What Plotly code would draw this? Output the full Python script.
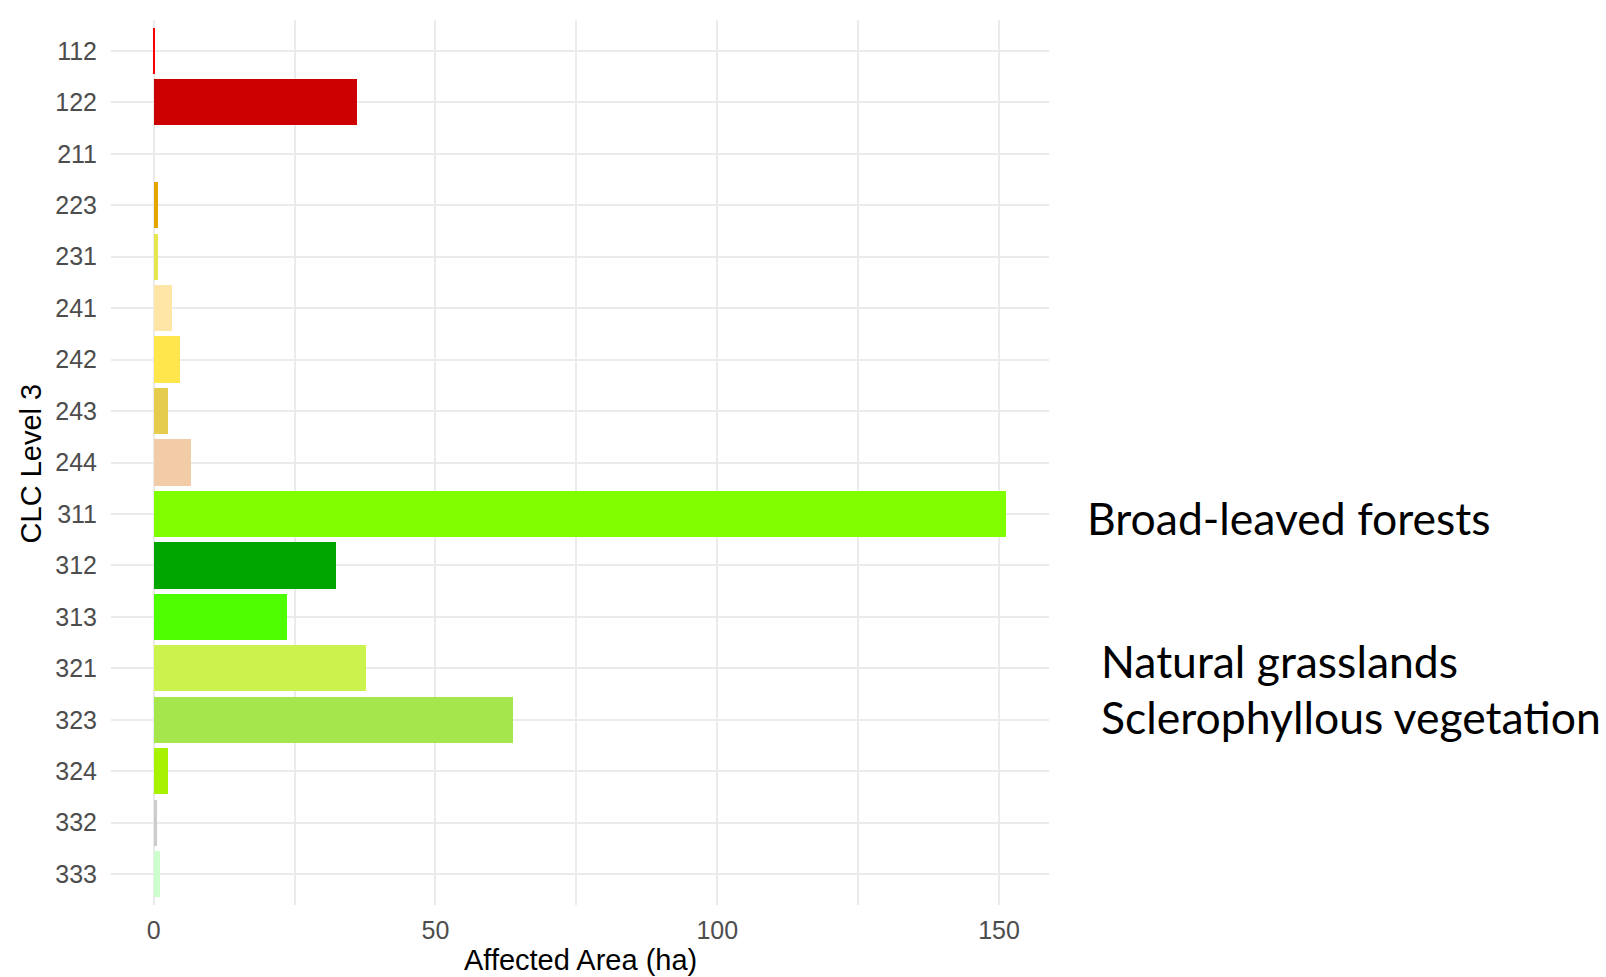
import plotly.graph_objects as go

categories = ["112", "122", "211", "223", "231", "241", "242", "243", "244",
              "311", "312", "313", "321", "323", "324", "332", "333"]
values = [0.2, 36.0, 0.0, 0.7, 0.7, 3.2, 4.6, 2.5, 6.6,
          151.3, 32.3, 23.7, 37.6, 63.8, 2.5, 0.6, 1.2]
colors = ["#FF0000", "#CC0000", "#FFFFA8", "#E6A600", "#E6E64D", "#FFE6A6",
          "#FFE64D", "#E6CC4D", "#F2CCA6", "#80FF00", "#00A600", "#4DFF00",
          "#CCF24D", "#A6E64D", "#A6F200", "#CCCCCC", "#CCFFCC"]
x_ticks = [0, 50, 100, 150]
x_title = "Affected Area (ha)"
y_title = "CLC Level 3"
side_labels = ["Broad-leaved forests", "Natural grasslands", "Sclerophyllous vegetation"]

W, H = 1606, 977
L, R, T, B = 110.6, 1049.0, 20.0, 905.0

def px_x(p):
    return (p - L) / (R - L)

def px_y(p):
    return (B - p) / (B - T)

dmax = max(values)
pad = 0.05 * dmax

fig = go.Figure(go.Bar(
    y=categories, x=values, orientation="h",
    marker=dict(color=colors, line=dict(width=0)),
    width=0.9, hoverinfo="x+y",
))

tick_font = dict(family="Liberation Sans, Arial, sans-serif", size=25, color="#4D4D4D")
title_font = dict(family="Liberation Sans, Arial, sans-serif", size=29, color="#000000")
side_font = dict(family="Lato, sans-serif", size=44.5, color="#000000")

fig.update_layout(
    width=W, height=H,
    margin=dict(l=L, r=W - R, t=T, b=H - B, pad=0),
    paper_bgcolor="white", plot_bgcolor="white",
    showlegend=False, bargap=0,
    xaxis=dict(
        range=[-pad, dmax + pad], tickvals=x_ticks, ticktext=[str(t) for t in x_ticks],
        showgrid=True, gridcolor="#EBEBEB", gridwidth=2.2,
        minor=dict(dtick=25, tick0=0, showgrid=True, gridcolor="#EBEBEB", gridwidth=2.2),
        zeroline=False, showline=False, ticks="outside", ticklen=3,
        tickcolor="rgba(0,0,0,0)", tickfont=tick_font, automargin=False,
    ),
    yaxis=dict(
        type="category", categoryorder="array", categoryarray=categories,
        range=[len(categories) - 1 + 0.6, -0.6],
        showgrid=True, gridcolor="#EBEBEB", gridwidth=2.2,
        zeroline=False, showline=False, ticks="outside", ticklen=8,
        tickcolor="rgba(0,0,0,0)", tickfont=tick_font, automargin=False,
    ),
    annotations=[
        dict(text=x_title, xref="paper", yref="paper", x=px_x(580), y=px_y(960),
             xanchor="center", yanchor="middle", showarrow=False, font=title_font),
        dict(text=y_title, xref="paper", yref="paper", x=px_x(31), y=px_y(463),
             xanchor="center", yanchor="middle", textangle=-90, showarrow=False,
             font=title_font),
        dict(text=side_labels[0], xref="paper", yref="paper", x=px_x(1085), y=px_y(517),
             xanchor="left", yanchor="middle", showarrow=False, font=side_font),
        dict(text=side_labels[1], xref="paper", yref="paper", x=px_x(1099), y=px_y(660),
             xanchor="left", yanchor="middle", showarrow=False, font=side_font),
        dict(text=side_labels[2], xref="paper", yref="paper", x=px_x(1099), y=px_y(716),
             xanchor="left", yanchor="middle", showarrow=False, font=side_font),
    ],
)

fig.write_html("out.html", config={"displayModeBar": False},
               post_script="document.body.style.margin='0px';")
